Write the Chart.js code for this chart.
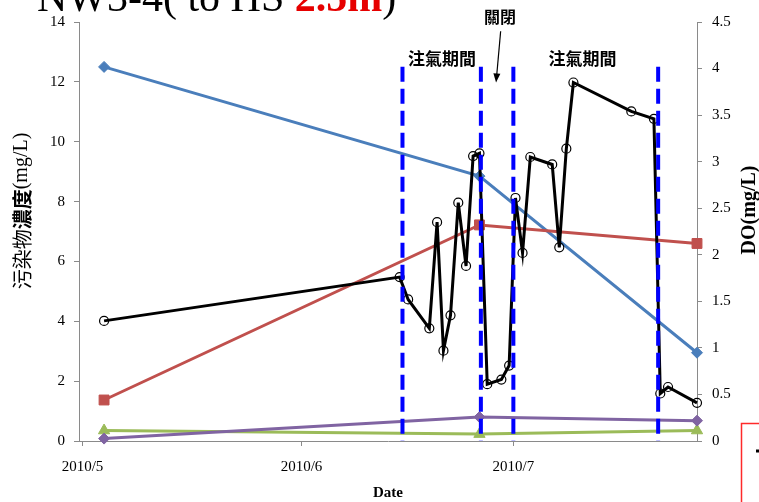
<!DOCTYPE html>
<html>
<head>
<meta charset="utf-8">
<script src="https://cdn.jsdelivr.net/npm/chart.js@4/dist/chart.umd.min.js"></script>
<style>
  html, body { margin: 0; padding: 0; background: #fff; }
  canvas { display: block; }
</style>
</head>
<body>
<canvas id="c" width="759" height="502"></canvas>
<script>
// Days are counted from 2010/5/1 (day 0); fractions are the time of sampling.
const monthTickDays = [0, 31, 61];
const monthLabels = ['2010/5', '2010/6', '2010/7'];

// Dissolved oxygen, right axis (mg/L)
const doDays = [3.05, 44.9, 46.1, 49.1, 50.2, 51.1, 52.1, 53.2, 54.3, 55.3, 56.2, 57.3, 59.3,
                60.4, 61.3, 62.3, 63.4, 66.5, 67.5, 68.5, 69.5, 77.7, 80.9, 81.8, 82.9, 87.0];
const doValues = [1.29, 1.76, 1.52, 1.21, 2.35, 0.97, 1.35, 2.56, 1.88, 3.06, 3.09, 0.61, 0.66,
                  0.81, 2.61, 2.02, 3.05, 2.97, 2.08, 3.14, 3.85, 3.54, 3.46, 0.51, 0.58, 0.41];

// Pollutant concentrations, left axis (mg/L)
const labDays = [3.05, 56.2, 87.0];
const seriesBlue = [12.5, 8.85, 2.95];
const seriesRed = [1.37, 7.22, 6.6];
const seriesGreen = [0.35, 0.23, 0.35];
const seriesPurple = [0.08, 0.8, 0.68];

// Start / end of the air-injection periods
const aerationDays = [45.3, 56.4, 61.0, 81.5];
const aerationTop = 4.02;

const SERIF = "'Times New Roman', 'Liberation Serif', serif";
const CJK = "'Noto Sans CJK TC', 'Noto Sans CJK JP', sans-serif";
const AXIS_GRAY = '#8a8a8a';

function pts(days, values) {
  return days.map((d, i) => ({ x: d, y: values[i] }));
}

const aerationSets = aerationDays.map(d => ({
  data: [{ x: d, y: aerationTop }, { x: d, y: 0 }],
  yAxisID: 'y2',
  borderColor: '#0000ff',
  borderWidth: 4,
  borderDash: [15, 7],
  borderCapStyle: 'butt',
  pointRadius: 0
}));

function seriesSet(values, color, style, radius) {
  return {
    data: pts(labDays, values),
    yAxisID: 'y',
    borderColor: color,
    backgroundColor: color,
    borderWidth: 3,
    pointStyle: style,
    pointRadius: radius,
    pointBorderWidth: 1,
    pointBorderColor: color,
    pointBackgroundColor: color
  };
}

const overlay = {
  id: 'overlay',
  afterDraw(chart) {
    const ctx = chart.ctx;
    const xs = chart.scales.x;
    const y2 = chart.scales.y2;
    ctx.save();

    // Heading (runs off the top edge of the canvas)
    ctx.textAlign = 'left';
    ctx.textBaseline = 'alphabetic';
    let hx = 37;
    const hy = 11;
    ctx.font = '42px ' + SERIF;
    ctx.fillStyle = '#000';
    ctx.fillText('NW3-4( to HS ', hx, hy);
    hx += ctx.measureText('NW3-4( to HS ').width;
    ctx.font = 'bold 42px ' + SERIF;
    ctx.fillStyle = '#e60000';
    ctx.fillText('2.5m', hx, hy);
    hx += ctx.measureText('2.5m').width;
    ctx.font = '42px ' + SERIF;
    ctx.fillStyle = '#000';
    ctx.fillText(')', hx, hy);

    // Period labels
    ctx.textAlign = 'center';
    ctx.textBaseline = 'middle';
    ctx.fillStyle = '#000';
    ctx.font = 'bold 17px ' + CJK;
    ctx.fillText('注氣期間', xs.getPixelForValue(50.9), y2.getPixelForValue(4.11));
    ctx.fillText('注氣期間', xs.getPixelForValue(70.8), y2.getPixelForValue(4.11));
    ctx.font = 'bold 16px ' + CJK;
    ctx.fillText('關閉', xs.getPixelForValue(59.1), y2.getPixelForValue(4.55));

    // Arrow pointing at the closed interval
    const ax0 = xs.getPixelForValue(59.2), ay0 = y2.getPixelForValue(4.40);
    const ax1 = xs.getPixelForValue(58.55), ay1 = y2.getPixelForValue(3.85);
    const ang = Math.atan2(ay1 - ay0, ax1 - ax0);
    ctx.strokeStyle = '#000';
    ctx.lineWidth = 1.2;
    ctx.beginPath();
    ctx.moveTo(ax0, ay0);
    ctx.lineTo(ax1 - 6 * Math.cos(ang), ay1 - 6 * Math.sin(ang));
    ctx.stroke();
    ctx.beginPath();
    ctx.moveTo(ax1, ay1);
    ctx.lineTo(ax1 - 9 * Math.cos(ang) + 3.5 * Math.sin(ang), ay1 - 9 * Math.sin(ang) - 3.5 * Math.cos(ang));
    ctx.lineTo(ax1 - 9 * Math.cos(ang) - 3.5 * Math.sin(ang), ay1 - 9 * Math.sin(ang) + 3.5 * Math.cos(ang));
    ctx.closePath();
    ctx.fillStyle = '#000';
    ctx.fill();

    // Left axis title, mixed weights
    ctx.save();
    ctx.translate(22, 211);
    ctx.rotate(-Math.PI / 2);
    ctx.textAlign = 'left';
    ctx.textBaseline = 'middle';
    const parts = [
      ['20px ' + CJK, '污染物'],
      ['bold 20px ' + CJK, '濃度'],
      ['20px ' + SERIF, '(mg/L)']
    ];
    let total = 0;
    parts.forEach(p => { ctx.font = p[0]; total += ctx.measureText(p[1]).width; });
    let px = -total / 2;
    parts.forEach(p => {
      ctx.font = p[0];
      ctx.fillText(p[1], px, 0);
      px += ctx.measureText(p[1]).width;
    });
    ctx.restore();

    // Right axis title
    ctx.save();
    ctx.translate(750, 210);
    ctx.rotate(-Math.PI / 2);
    ctx.textAlign = 'center';
    ctx.textBaseline = 'middle';
    ctx.font = 'bold 20px ' + SERIF;
    ctx.fillText('DO(mg/L)', 0, 0);
    ctx.restore();

    // X axis title
    ctx.textAlign = 'center';
    ctx.textBaseline = 'middle';
    ctx.font = 'bold 15px ' + SERIF;
    ctx.fillText('Date', (chart.chartArea.left + chart.chartArea.right) / 2, 493);

    // Legend frame running off the lower right corner
    ctx.strokeStyle = '#ff2a2a';
    ctx.lineWidth = 1.5;
    ctx.strokeRect(741.5, 423.5, 40, 100);
    ctx.fillStyle = '#000';
    ctx.fillRect(756, 449.5, 3, 3);

    ctx.restore();
  }
};

new Chart(document.getElementById('c'), {
  type: 'line',
  data: {
    datasets: [
      ...aerationSets,
      {
        label: 'DO',
        data: pts(doDays, doValues),
        yAxisID: 'y2',
        borderColor: '#000',
        borderWidth: 3,
        pointStyle: 'circle',
        pointRadius: 4.5,
        pointBorderWidth: 1.2,
        pointBorderColor: '#000',
        pointBackgroundColor: 'rgba(255,255,255,0)'
      },
      seriesSet(seriesPurple, '#8064a2', 'rectRot', 5.5),
      seriesSet(seriesGreen, '#9bbb59', 'triangle', 6.5),
      seriesSet(seriesRed, '#c0504d', 'rect', 7),
      seriesSet(seriesBlue, '#4a7ebb', 'rectRot', 5.5)
    ]
  },
  options: {
    responsive: false,
    animation: false,
    devicePixelRatio: 1,
    clip: false,
    elements: { line: { tension: 0 } },
    layout: { padding: { top: 22, left: 0, right: 0, bottom: 0 } },
    plugins: { legend: { display: false }, tooltip: { enabled: false } },
    scales: {
      x: {
        type: 'linear',
        position: 'bottom',
        min: -0.5,
        max: 87,
        afterBuildTicks: scale => { scale.ticks = monthTickDays.map(v => ({ value: v })); },
        afterFit: scale => { scale.height = 61; },
        ticks: {
          autoSkip: false,
          maxRotation: 0,
          padding: 12,
          color: '#000',
          font: { family: SERIF, size: 15 },
          callback: v => monthLabels[monthTickDays.indexOf(v)]
        },
        grid: { drawOnChartArea: false, drawTicks: true, tickLength: 5, color: AXIS_GRAY },
        border: { display: true, color: AXIS_GRAY, width: 1 }
      },
      y: {
        type: 'linear',
        position: 'left',
        min: 0,
        max: 14,
        afterFit: scale => { scale.width = 79; },
        ticks: { stepSize: 2, padding: 9, color: '#000', font: { family: SERIF, size: 15 } },
        grid: { drawOnChartArea: false, drawTicks: true, tickLength: 5, color: AXIS_GRAY },
        border: { display: true, color: AXIS_GRAY, width: 1 }
      },
      y2: {
        type: 'linear',
        position: 'right',
        min: 0,
        max: 4.5,
        afterFit: scale => { scale.width = 62; },
        ticks: {
          stepSize: 0.5,
          padding: 10,
          color: '#000',
          font: { family: SERIF, size: 15 },
          callback: v => String(Math.round(v * 10) / 10)
        },
        grid: { drawOnChartArea: false, drawTicks: true, tickLength: 5, color: AXIS_GRAY },
        border: { display: true, color: AXIS_GRAY, width: 1 }
      }
    }
  },
  plugins: [overlay]
});
</script>
</body>
</html>
